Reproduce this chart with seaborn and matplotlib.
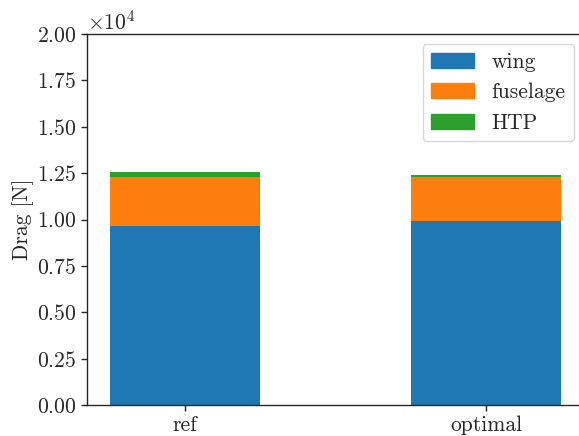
import matplotlib
matplotlib.use("Agg")
import matplotlib.pyplot as plt
import matplotlib.patches as mpatches
import numpy as np
import pandas as pd
import seaborn as sns

# Drag breakdown per configuration [N]
configs = ["ref", "optimal"]
wing = [9666, 9919]
fuselage = [2641, 2355]
htp = [270, 108]

components = ["wing", "fuselage", "HTP"]
colors = ["#1f77b4", "#ff7f0e", "#2ca02c"]

sns.set_style("ticks")
plt.rcParams["font.family"] = "serif"
plt.rcParams["font.serif"] = ["cmr10"]
plt.rcParams["mathtext.fontset"] = "cm"
plt.rcParams["axes.formatter.use_mathtext"] = True
plt.rcParams["font.size"] = 15.5

df = pd.DataFrame({"config": configs, "wing": wing, "fuselage": fuselage, "HTP": htp})
df["wing+fuselage"] = df["wing"] + df["fuselage"]
df["total"] = df["wing+fuselage"] + df["HTP"]

fig = plt.figure(figsize=(5.79, 4.36), dpi=100)
ax = fig.add_axes([87 / 579, 1 - 405 / 436, (584 - 87) / 579, (405 - 34) / 436])

# stacked bars drawn as overlaid cumulative sums
for col, c in zip(["total", "wing+fuselage", "wing"], colors[::-1]):
    sns.barplot(data=df, x="config", y=col, color=c, saturation=1,
                width=0.5, linewidth=0, ax=ax)

ax.set_xlim(-0.325, 1.325)
ax.set_ylim(0, 20000)
ax.set_yticks(np.arange(0, 20001, 2500))
ax.ticklabel_format(style="sci", axis="y", scilimits=(0, 0), useMathText=True)
ax.set_xlabel("")
ax.set_ylabel("Drag [N]", labelpad=2)
for s in ax.spines.values():
    s.set_visible(True)
    s.set_linewidth(1.0)
ax.tick_params(direction="out", length=4, width=1)

handles = [mpatches.Patch(color=c, label=l) for c, l in zip(colors, components)]
ax.legend(handles=handles, loc="upper right", bbox_to_anchor=(574 / 579, 1 - 44 / 436),
          bbox_transform=fig.transFigure, fontsize=15.5, framealpha=0.8,
          borderaxespad=0)

fig.savefig("out.png", dpi=100)
